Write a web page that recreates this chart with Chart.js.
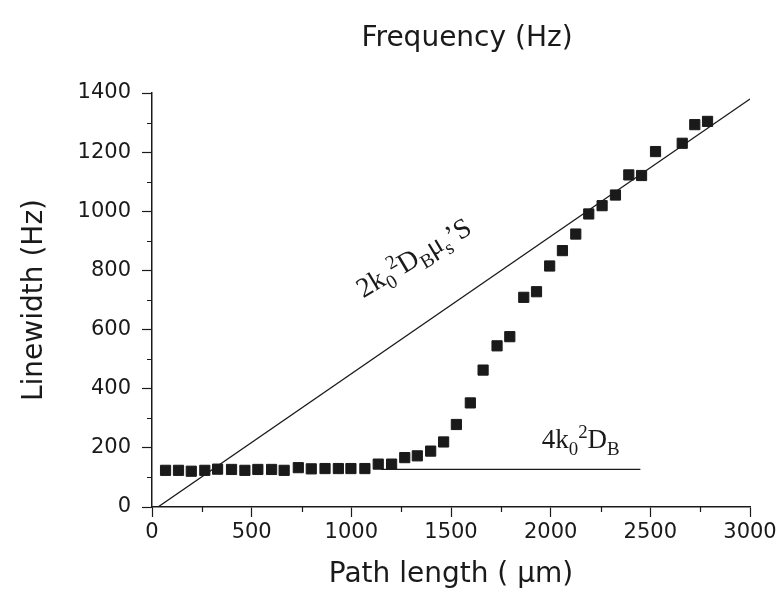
<!DOCTYPE html>
<html>
<head>
<meta charset="utf-8">
<script src="https://cdn.jsdelivr.net/npm/chart.js@4/dist/chart.umd.min.js"></script>
<style>
  html, body { margin: 0; padding: 0; background: #fff; }
  #wrap { width: 777px; height: 599px; }
</style>
</head>
<body>
<div id="wrap"><canvas id="lw"></canvas></div>
<script>
// measured points
const pathLength = [68,133,197,265,329,399,466,531,600,663,734,799,868,935,998,1068,1135,1202,1268,1331,1398,1463,1527,1597,1661,1731,1795,1865,1929,1995,2059,2126,2191,2258,2325,2392,2456,2526,2660,2723,2787];
const linewidth  = [124,124,121,124,128,127,124,127,127,124,133,129,130,130,130,130,145,145,167,173,189,220,279,352,463,545,576,709,728,815,867,923,991,1019,1055,1123,1121,1202,1230,1293,1304];

// the two model lines
const slopeLineX = [30, 3000];
const slopeLineY = [0, 1380];
const flatLineX = [1150, 2450];
const flatLineY = [127, 127];

const xTicks = [0, 500, 1000, 1500, 2000, 2500, 3000];
const yTicks = [0, 200, 400, 600, 800, 1000, 1200, 1400];

const ink = '#1a1a1a';
const sans = '"DejaVu Sans", sans-serif';
const serif = '"Liberation Serif", "DejaVu Serif", serif';

const pairs = (xs, ys) => xs.map((x, i) => ({x, y: ys[i]}));

// draws text with sub/superscript pieces, left-baseline at 0,0
function richText(ctx, parts, size){
    let x = 0;
    parts.forEach(p => {
        const s = p.sub || p.sup ? size * 0.7 : size;
        const dy = p.sub ? size * 0.24 : p.sup ? -size * 0.38 : 0;
        ctx.font = s + 'px ' + serif;
        ctx.fillText(p.t, x, dy);
        x += ctx.measureText(p.t).width;
    });
}

const labels = {
    id: 'labels',
    afterDraw(chart){
        const {ctx, scales: {x, y}} = chart;
        ctx.save();
        ctx.fillStyle = ink;
        ctx.textBaseline = 'alphabetic';

        // figure heading
        ctx.font = '28px ' + sans;
        ctx.textAlign = 'center';
        ctx.fillText('Frequency (Hz)', 467, 46);
        ctx.textAlign = 'left';

        // minor ticks
        ctx.strokeStyle = ink;
        ctx.lineWidth = 1.2;
        ctx.beginPath();
        for (let v = 100; v < 1400; v += 200) {
            const py = Math.round(y.getPixelForValue(v)) + 0.5;
            ctx.moveTo(x.left - 5, py); ctx.lineTo(x.left, py);
        }
        for (let v = 250; v < 3000; v += 500) {
            const px = Math.round(x.getPixelForValue(v)) + 0.5;
            ctx.moveTo(px, y.bottom); ctx.lineTo(px, y.bottom + 5);
        }
        ctx.stroke();

        // slope label, along the line
        ctx.save();
        ctx.translate(x.getPixelForValue(1060), y.getPixelForValue(705));
        ctx.rotate(-31 * Math.PI / 180);
        richText(ctx, [{t:'2k'}, {t:'0', sub:true}, {t:'2', sup:true}, {t:'D'}, {t:'B', sub:true},
                       {t:'\u03bc'}, {t:'s', sub:true}, {t:'\u2019S'}], 28);
        ctx.restore();

        // plateau label
        ctx.save();
        ctx.translate(x.getPixelForValue(1955), y.getPixelForValue(199));
        richText(ctx, [{t:'4k'}, {t:'0', sub:true}, {t:'2', sup:true}, {t:'D'}, {t:'B', sub:true}], 27);
        ctx.restore();

        ctx.restore();
    }
};

new Chart(document.getElementById('lw'), {
    type: 'scatter',
    data: {
        datasets: [
            { label: 'measured', data: pairs(pathLength, linewidth), pointStyle: 'rect', pointRadius: 7.2,
              backgroundColor: ink, borderColor: ink, borderWidth: 1, showLine: false },
            { label: 'slope', data: pairs(slopeLineX, slopeLineY), showLine: true, pointRadius: 0,
              borderColor: ink, borderWidth: 1.3 },
            { label: 'plateau', data: pairs(flatLineX, flatLineY), showLine: true, pointRadius: 0,
              borderColor: ink, borderWidth: 1.3 }
        ]
    },
    options: {
        responsive: true,
        maintainAspectRatio: false,
        animation: false,
        layout: { padding: { top: 93, left: 8, right: 27, bottom: 6 } },
        plugins: { legend: { display: false }, tooltip: { enabled: false } },
        scales: {
            x: {
                type: 'linear', min: 0, max: 3000,
                afterFit: s => { s.height = 86; s.paddingLeft = 0; s.paddingRight = 0; },
                afterBuildTicks: s => { s.ticks = xTicks.map(v => ({value: v})); },
                border: { color: ink, width: 1.5 },
                grid: { drawOnChartArea: false, tickLength: 10, color: ink, tickWidth: 1.2 },
                ticks: { color: ink, padding: 3, maxRotation: 0, callback: v => String(v),
                         font: { family: sans, size: 21 } },
                title: { display: true, text: 'Path length ( \u03bcm)', color: ink, padding: { top: 0, bottom: 1 },
                         font: { family: sans, size: 28 } }
            },
            y: {
                type: 'linear', min: 0, max: 1400,
                afterFit: s => { s.width = 144; s.paddingTop = 0; s.paddingBottom = 0; },
                afterBuildTicks: s => { s.ticks = yTicks.map(v => ({value: v})); },
                border: { color: ink, width: 1.5 },
                grid: { drawOnChartArea: false, tickLength: 10, color: ink, tickWidth: 1.2 },
                ticks: { color: ink, padding: 11, callback: v => String(v),
                         font: { family: sans, size: 21 } },
                title: { display: true, text: 'Linewidth (Hz)', color: ink, padding: { top: 10, bottom: 0 },
                         font: { family: sans, size: 28 } }
            }
        }
    },
    plugins: [labels]
});
</script>
</body>
</html>
